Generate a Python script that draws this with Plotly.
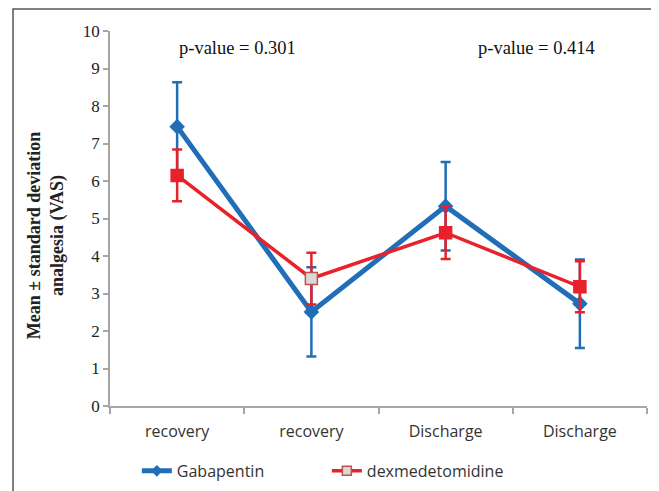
import plotly.graph_objects as go

categories = ["recovery", "recovery", "Discharge", "Discharge"]
x_pos = [0, 1, 2, 3]
gaba_mean = [7.45, 2.51, 5.33, 2.73]
gaba_sd = [1.18, 1.19, 1.18, 1.18]
dex_mean = [6.15, 3.40, 4.62, 3.18]
dex_sd = [0.69, 0.69, 0.70, 0.68]
p_labels = ["p-value = 0.301", "p-value = 0.414"]
y_title = "<b>Mean ± standard deviation<br>analgesia (VAS)</b>"

BLUE = "#1f6eb7"
RED = "#e8212b"

fig = go.Figure()
fig.add_trace(go.Scatter(
    x=x_pos, y=gaba_mean, mode="lines+markers", showlegend=False,
    line=dict(color=BLUE, width=5),
    marker=dict(symbol="diamond", size=12, color=BLUE),
    error_y=dict(type="data", array=gaba_sd, color=BLUE, thickness=2.5, width=5),
))
fig.add_trace(go.Scatter(
    x=x_pos, y=dex_mean, mode="lines+markers", showlegend=False,
    line=dict(color=RED, width=3.5),
    marker=dict(symbol="square", size=12,
                color=[RED, "#d9d9d9", RED, RED],
                line=dict(color=[RED, "#c0504d", RED, RED], width=1.5)),
    error_y=dict(type="data", array=dex_sd, color=RED, thickness=2.5, width=5),
))
# legend entries
fig.add_trace(go.Scatter(
    x=[None], y=[None], mode="lines+markers", name="Gabapentin",
    line=dict(color=BLUE, width=5),
    marker=dict(symbol="diamond", size=9, color=BLUE),
))
fig.add_trace(go.Scatter(
    x=[None], y=[None], mode="lines+markers", name="dexmedetomidine",
    line=dict(color=RED, width=3.5),
    marker=dict(symbol="square", size=9, color="#d9d9d9", line=dict(color="#c0504d", width=1.5)),
))

fig.add_annotation(x=0.238, y=9.55, xref="paper", yref="y", text=p_labels[0], showarrow=False,
                   xanchor="center", font=dict(family="Liberation Serif", size=18.5, color="#111"))
fig.add_annotation(x=0.795, y=9.55, xref="paper", yref="y", text=p_labels[1], showarrow=False,
                   xanchor="center", font=dict(family="Liberation Serif", size=18.5, color="#111"))

# y-axis title as rotated annotation
fig.add_annotation(x=-0.119, y=0.453, xref="paper", yref="paper", text=y_title, showarrow=False,
                   textangle=-90, xanchor="center", yanchor="middle",
                   font=dict(family="Liberation Serif", size=18, color="#222"))

# outer frame (left, top, right edges)
fig.add_shape(type="path", xref="paper", yref="paper",
              path="M -0.1806 -0.25 L -0.1806 1.059 L 1.0149 1.059 L 1.0149 -0.25",
              line=dict(color="#555", width=1.5))

# body has 8px margin in the page -> shrink figure & left/top margins by 8px
fig.update_layout(
    width=651, height=483,
    margin=dict(l=102, r=12, t=23, b=85, autoexpand=False),
    paper_bgcolor="white", plot_bgcolor="white",
    xaxis=dict(range=[-0.5, 3.5], tickvals=x_pos, ticktext=categories, automargin=False,
               showgrid=False, zeroline=False, showline=True, linecolor="#a6a6a6", linewidth=1.5,
               ticks="", ticklabelstandoff=10,
               tickfont=dict(family="Open Sans", size=16, color="#333"),
               minor=dict(tickvals=[-0.5, 0.5, 1.5, 2.5, 3.5], ticks="outside", ticklen=6,
                          tickcolor="#a6a6a6", tickwidth=1.5, showgrid=False)),
    yaxis=dict(range=[0, 10], tickvals=list(range(0, 11)), showgrid=False, zeroline=False,
               automargin=False,
               showline=True, linecolor="#a6a6a6", linewidth=1.5,
               ticks="outside", ticklen=5, tickcolor="#a6a6a6", tickwidth=1.5,
               tickfont=dict(family="Liberation Serif", size=17, color="#222")),
    legend=dict(orientation="h", x=0.05, y=-0.173, xanchor="left", yanchor="middle",
                font=dict(family="Open Sans", size=16, color="#333"),
                entrywidth=145, entrywidthmode="pixels"),
)

fig.write_html("out.html")
